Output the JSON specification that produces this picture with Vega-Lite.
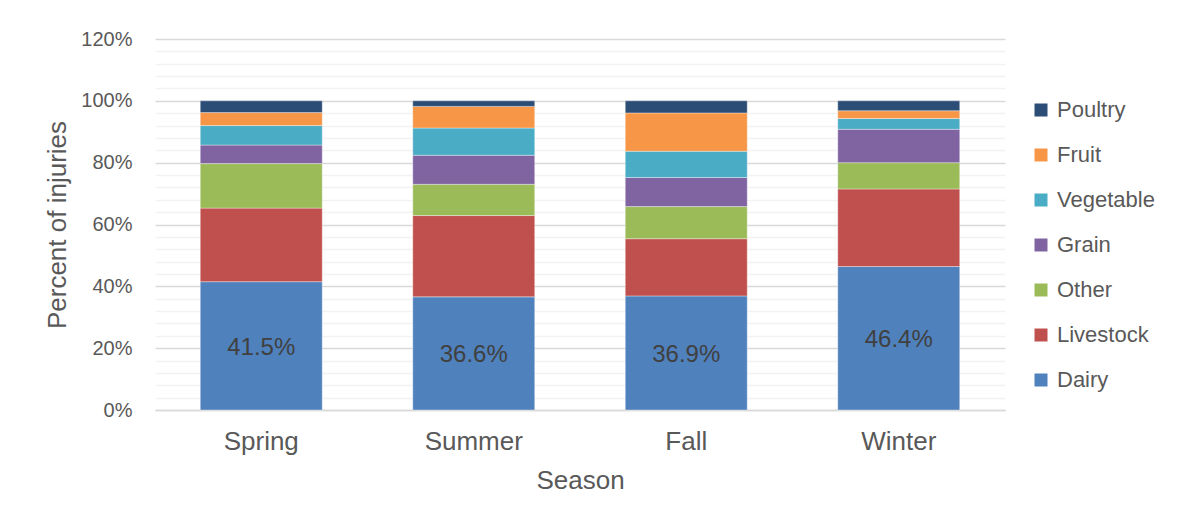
{
  "$schema": "https://vega.github.io/schema/vega-lite/v6.json",
  "width": 850,
  "height": 371,
  "autosize": {"type": "none"},
  "padding": {"left": 155, "top": 39, "right": 184, "bottom": 110},
  "background": "white",
  "config": {
    "font": "Liberation Sans",
    "view": {"stroke": null},
    "axis": {"labelColor": "#595959", "titleColor": "#595959", "labelFont": "Liberation Sans", "titleFont": "Liberation Sans", "titleFontWeight": "normal"},
    "legend": {"labelColor": "#595959", "labelFont": "Liberation Sans"}
  },
  "data": {
    "values": [
      {"season": "Spring", "crop": "Dairy", "rank": 1, "value": 0.415},
      {"season": "Spring", "crop": "Livestock", "rank": 2, "value": 0.238},
      {"season": "Spring", "crop": "Other", "rank": 3, "value": 0.144},
      {"season": "Spring", "crop": "Grain", "rank": 4, "value": 0.060},
      {"season": "Spring", "crop": "Vegetable", "rank": 5, "value": 0.063},
      {"season": "Spring", "crop": "Fruit", "rank": 6, "value": 0.042},
      {"season": "Spring", "crop": "Poultry", "rank": 7, "value": 0.038},
      {"season": "Summer", "crop": "Dairy", "rank": 1, "value": 0.366},
      {"season": "Summer", "crop": "Livestock", "rank": 2, "value": 0.263},
      {"season": "Summer", "crop": "Other", "rank": 3, "value": 0.101},
      {"season": "Summer", "crop": "Grain", "rank": 4, "value": 0.094},
      {"season": "Summer", "crop": "Vegetable", "rank": 5, "value": 0.088},
      {"season": "Summer", "crop": "Fruit", "rank": 6, "value": 0.070},
      {"season": "Summer", "crop": "Poultry", "rank": 7, "value": 0.018},
      {"season": "Fall", "crop": "Dairy", "rank": 1, "value": 0.369},
      {"season": "Fall", "crop": "Livestock", "rank": 2, "value": 0.185},
      {"season": "Fall", "crop": "Other", "rank": 3, "value": 0.104},
      {"season": "Fall", "crop": "Grain", "rank": 4, "value": 0.094},
      {"season": "Fall", "crop": "Vegetable", "rank": 5, "value": 0.085},
      {"season": "Fall", "crop": "Fruit", "rank": 6, "value": 0.124},
      {"season": "Fall", "crop": "Poultry", "rank": 7, "value": 0.039},
      {"season": "Winter", "crop": "Dairy", "rank": 1, "value": 0.464},
      {"season": "Winter", "crop": "Livestock", "rank": 2, "value": 0.251},
      {"season": "Winter", "crop": "Other", "rank": 3, "value": 0.085},
      {"season": "Winter", "crop": "Grain", "rank": 4, "value": 0.108},
      {"season": "Winter", "crop": "Vegetable", "rank": 5, "value": 0.035},
      {"season": "Winter", "crop": "Fruit", "rank": 6, "value": 0.025},
      {"season": "Winter", "crop": "Poultry", "rank": 7, "value": 0.032}
    ]
  },
  "encoding": {
    "x": {
      "field": "season",
      "type": "nominal",
      "sort": ["Spring", "Summer", "Fall", "Winter"],
      "scale": {"paddingInner": 0.426, "paddingOuter": 0.213},
      "axis": {
        "title": "Season",
        "labelAngle": 0,
        "labelFontSize": 26,
        "titleFontSize": 26,
        "labelPadding": 18,
        "titlePadding": 13,
        "ticks": false,
        "domainColor": "#d9d9d9",
        "domainWidth": 1.5
      }
    }
  },
  "layer": [
    {
      "mark": {"type": "bar", "stroke": "#ffffff", "strokeWidth": 0.6, "strokeOpacity": 0.6},
      "encoding": {
        "y": {
          "field": "value",
          "type": "quantitative",
          "stack": "zero",
          "scale": {"domain": [0, 1.2], "nice": false, "zero": true},
          "axis": {
            "orient": "left",
            "title": "Percent of injuries",
            "titleFontSize": 26,
            "titlePadding": 10,
            "values": [0, 0.2, 0.4, 0.6, 0.8, 1.0, 1.2],
            "format": ".0%",
            "labelFontSize": 20,
            "labelPadding": 23,
            "ticks": false,
            "domain": false,
            "grid": true,
            "gridColor": "#d9d9d9",
            "gridWidth": 1.5
          }
        },
        "color": {
          "field": "crop",
          "type": "nominal",
          "scale": {
            "domain": ["Poultry", "Fruit", "Vegetable", "Grain", "Other", "Livestock", "Dairy"],
            "range": ["#2c4d75", "#f79646", "#4bacc6", "#8064a2", "#9bbb59", "#c0504d", "#4f81bd"]
          },
          "legend": {
            "title": null,
            "orient": "none",
            "legendX": 875,
            "legendY": 60,
            "symbolType": "square",
            "symbolSize": 169,
            "symbolStrokeWidth": 0,
            "labelFontSize": 22,
            "labelOffset": 5,
            "rowPadding": 23,
            "padding": 0
          }
        },
        "order": {"field": "rank", "type": "quantitative", "sort": "ascending"}
      }
    },
    {
      "transform": [
        {"filter": "datum.crop === 'Dairy'"},
        {"calculate": "datum.value / 2", "as": "mid"}
      ],
      "mark": {"type": "text", "fontSize": 24, "color": "#404040", "font": "Liberation Sans", "baseline": "middle", "dy": 2},
      "encoding": {
        "y": {
          "field": "mid",
          "type": "quantitative",
          "scale": {"domain": [0, 1.2], "nice": false},
          "axis": {
            "orient": "right",
            "title": null,
            "values": [0.04, 0.08, 0.12, 0.16, 0.24, 0.28, 0.32, 0.36, 0.44, 0.48, 0.52, 0.56, 0.64, 0.68, 0.72, 0.76, 0.84, 0.88, 0.92, 0.96, 1.04, 1.08, 1.12, 1.16],
            "labels": false,
            "ticks": false,
            "domain": false,
            "grid": true,
            "gridColor": "#f2f2f2",
            "gridWidth": 1.5
          }
        },
        "text": {"field": "value", "type": "quantitative", "format": ".1%"}
      }
    }
  ],
  "resolve": {"axis": {"y": "independent"}}
}
